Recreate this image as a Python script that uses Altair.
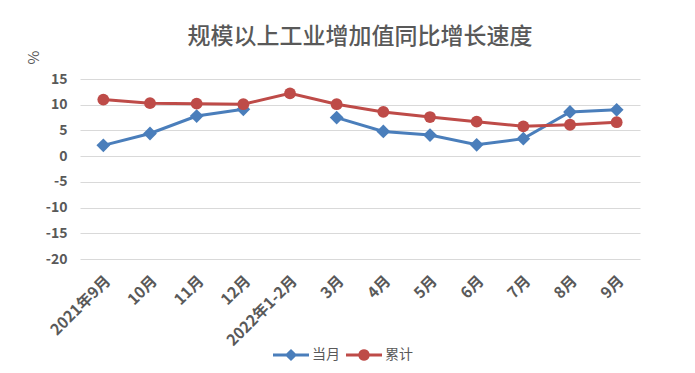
import math
import altair as alt
import pandas as pd

months = ["2021年9月", "10月", "11月", "12月", "2022年1-2月", "3月", "4月", "5月", "6月", "7月", "8月", "9月"]
monthly = [2.1, 4.4, 7.8, 9.1, None, 7.5, 4.8, 4.1, 2.2, 3.4, 8.6, 9.0]
cumulative = [11.0, 10.3, 10.2, 10.1, 12.2, 10.1, 8.6, 7.6, 6.7, 5.8, 6.1, 6.6]
series_names = ["当月", "累计"]
colors = ["#4a7ebb", "#be4b48"]
y_ticks = [15, 10, 5, 0, -5, -10, -15, -20]

rows = []
for i, m in enumerate(months):
    rows.append({"月份": m, "系列": series_names[0], "值": monthly[i]})
    rows.append({"月份": m, "系列": series_names[1], "值": cumulative[i]})
df = pd.DataFrame(rows)

FONT = "Noto Sans CJK SC"
TITLE_FONT = "Noto Sans CJK SC Medium, Noto Sans CJK SC"
GRAY = "#595959"

# legend symbols: a line with the series marker in the middle
bar = "M-1,-0.08 H1 V0.08 H-1 Z "
diamond_path = bar + "M0,-0.34 L0.34,0 L0,0.34 L-0.34,0 Z"
circle_pts = []
for k in range(20):
    a = -math.pi / 2 + 2 * math.pi * k / 20
    circle_pts.append(f"{0.32 * math.cos(a):.3f},{0.32 * math.sin(a):.3f}")
circle_path = bar + "M" + " L".join(circle_pts) + " Z"

x_enc = alt.X("月份:N", sort=months, title=None,
              scale=alt.Scale(paddingInner=0, paddingOuter=0.5),
              axis=alt.Axis(labelAngle=-45, labelAlign="right", labelBaseline="middle",
                            labelFont=FONT, labelFontSize=15.5, labelFontWeight="bold",
                            labelColor=GRAY, ticks=False, domain=False, labelPadding=19,
                            labelOffset=4, grid=False))
y_enc = alt.Y("值:Q", title="%",
              scale=alt.Scale(domain=[-20, 15], nice=False, zero=False),
              axis=alt.Axis(values=y_ticks, labelExpr="datum.value + ''",
                            labelFont=FONT, labelFontSize=14,
                            labelFontWeight="bold", labelColor=GRAY, ticks=False,
                            domain=False, labelPadding=13, gridColor="#d9d9d9",
                            gridWidth=1, titleFont=FONT, titleFontSize=15,
                            titleFontWeight="normal", titleColor=GRAY,
                            titleAngle=-90, titleX=-47, titleY=-22,
                            titleAlign="center", titleBaseline="middle"))

legend = alt.Legend(
    orient="none", legendX=193, legendY=258, direction="horizontal", title=None,
    labelFont=FONT, labelFontSize=14, labelColor=GRAY, symbolSize=1296,
    labelOffset=3, columnPadding=6, symbolStrokeWidth=0, symbolOpacity=1)

base = alt.Chart(df)
lines = base.mark_line(strokeWidth=3, invalid="break-paths-show-domains").encode(
    x=x_enc, y=y_enc,
    color=alt.Color("系列:N", scale=alt.Scale(domain=series_names, range=colors), legend=None),
    detail="系列:N")
points = base.mark_point(filled=True, opacity=1).encode(
    x=x_enc, y=y_enc,
    color=alt.Color("系列:N", scale=alt.Scale(domain=series_names, range=colors), legend=None),
    shape=alt.Shape("系列:N", scale=alt.Scale(domain=series_names, range=["diamond", "circle"]),
                    legend=None),
    size=alt.Size("系列:N", scale=alt.Scale(domain=series_names, range=[190, 140]), legend=None))
legend_layer = base.transform_filter("false").mark_point(filled=True, opacity=1, size=1296).encode(
    x=x_enc, y=y_enc,
    color=alt.Color("系列:N", scale=alt.Scale(domain=series_names, range=colors), legend=legend),
    shape=alt.Shape("系列:N", scale=alt.Scale(domain=series_names, range=[diamond_path, circle_path]),
                    legend=legend))

chart = alt.layer(lines, points, legend_layer).resolve_scale(
    shape="independent", color="independent", size="independent"
).properties(
    width=560, height=180,
    autosize=alt.AutoSizeParams(type="none"),
    padding={"left": 72, "top": 71, "right": 47, "bottom": 106},
    title=alt.TitleParams("规模以上工业增加值同比增长速度", font=TITLE_FONT, fontSize=23,
                          fontWeight=500, color=GRAY, anchor="middle", offset=1),
).configure_view(stroke=None)

chart.save("out.html", embed_options={"renderer": "svg", "actions": False})
